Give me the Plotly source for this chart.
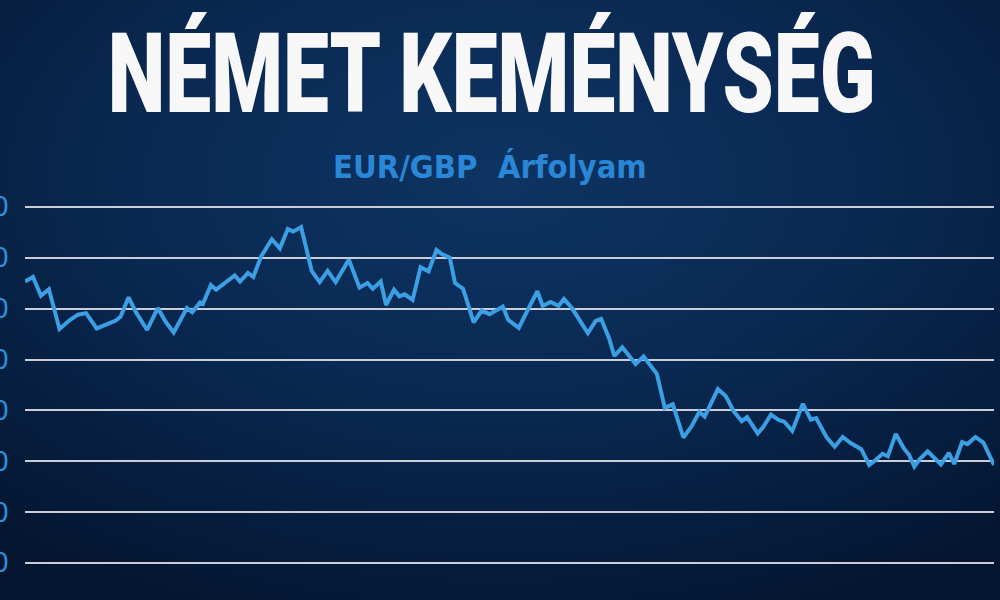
import base64
import pandas as pd
import plotly.graph_objects as go

# ---- data ----
napok = [0, 3, 6, 9, 13, 17, 20, 23, 27, 30, 34, 36, 39, 42, 46, 50, 53, 56, 61, 63,
         66, 67, 70, 72, 76, 79, 81, 84, 86, 89, 93, 96, 99, 101, 104, 108, 111, 114, 117, 122,
         126, 129, 131, 134, 136, 139, 141, 143, 146, 149, 152, 155, 157, 160, 162, 165, 169, 172, 175, 180,
         182, 185, 186, 190, 193, 195, 198, 201, 203, 206, 212, 215, 217, 220, 222, 225, 230, 233, 236, 238,
         241, 244, 248, 251, 254, 256, 261, 264, 267, 270, 272, 276, 278, 281, 284, 286, 289, 293, 296, 298,
         302, 305, 308, 311, 315, 318, 320, 323, 325, 328, 331, 333, 335, 337, 340, 343, 345, 348, 350, 353,
         355, 358, 361, 365]
arfolyam = [0.8653, 0.8662, 0.8625, 0.8638, 0.8560, 0.8578, 0.8588, 0.8591, 0.8561, 0.8568,
            0.8576, 0.8584, 0.8622, 0.8591, 0.8558, 0.8601, 0.8574, 0.8553, 0.8601, 0.8593,
            0.8612, 0.8609, 0.8646, 0.8637, 0.8653, 0.8665, 0.8653, 0.8670, 0.8662, 0.8703,
            0.8736, 0.8718, 0.8756, 0.8751, 0.8760, 0.8674, 0.8652, 0.8674, 0.8652, 0.8696,
            0.8641, 0.8650, 0.8639, 0.8653, 0.8607, 0.8637, 0.8624, 0.8628, 0.8617, 0.8681,
            0.8673, 0.8715, 0.8707, 0.8700, 0.8650, 0.8639, 0.8573, 0.8596, 0.8589, 0.8604,
            0.8578, 0.8566, 0.8562, 0.8604, 0.8634, 0.8605, 0.8613, 0.8605, 0.8619, 0.8601,
            0.8552, 0.8576, 0.8580, 0.8542, 0.8507, 0.8524, 0.8491, 0.8506, 0.8486, 0.8472,
            0.8405, 0.8412, 0.8347, 0.8368, 0.8397, 0.8388, 0.8442, 0.8428, 0.8398, 0.8379,
            0.8387, 0.8355, 0.8367, 0.8392, 0.8381, 0.8378, 0.8360, 0.8413, 0.8382, 0.8385,
            0.8347, 0.8329, 0.8348, 0.8336, 0.8324, 0.8293, 0.8301, 0.8315, 0.8310, 0.8354,
            0.8326, 0.8313, 0.8290, 0.8304, 0.8320, 0.8304, 0.8294, 0.8317, 0.8295, 0.8338,
            0.8334, 0.8348, 0.8337, 0.8293]
y_ticks = [0.81, 0.82, 0.83, 0.84, 0.85, 0.86, 0.87, 0.88]
start_date = "2024-01-01"
title_text = "NÉMET KEMÉNYSÉG"
subtitle_text = "EUR/GBP&nbsp;&nbsp;Árfolyam"

dates = pd.Timestamp(start_date) + pd.to_timedelta(napok, unit="D")

W, H = 1000, 600
ML, MR, MT, MB = 25, 6, 199.4, 29.4
pw, ph = W - ML - MR, H - MT - MB

svg = f'''<svg xmlns="http://www.w3.org/2000/svg" width="{W}" height="{H}" viewBox="0 0 {W} {H}" preserveAspectRatio="none">
<defs><radialGradient id="g" cx="50%" cy="30%" r="80%">
<stop offset="0" stop-color="#0e3463"/>
<stop offset="0.45" stop-color="#0a2952"/>
<stop offset="1" stop-color="#03152f"/>
</radialGradient></defs>
<rect width="{W}" height="{H}" fill="url(#g)"/></svg>'''
bg_src = "data:image/svg+xml;base64," + base64.b64encode(svg.encode()).decode()

fig = go.Figure()
fig.add_trace(go.Scatter(
    x=dates, y=arfolyam, mode="lines",
    line=dict(color="#3c9fe4", width=4),
    hoverinfo="skip", showlegend=False,
))

font_fam = "DejaVu Sans, sans-serif"
title_fam = "Roboto, DejaVu Sans, sans-serif"
fig.update_layout(
    width=W, height=H,
    margin=dict(l=ML, r=MR, t=MT, b=MB, pad=0),
    paper_bgcolor="#0a2a55", plot_bgcolor="rgba(0,0,0,0)",
    images=[dict(source=bg_src, xref="paper", yref="paper",
                 x=-ML / pw, y=1 + MT / ph, sizex=W / pw, sizey=H / ph,
                 xanchor="left", yanchor="top", sizing="stretch", layer="below")],
    xaxis=dict(range=[dates[0], dates[-1]], showgrid=False, zeroline=False,
               showticklabels=False, ticks="", showline=False),
    yaxis=dict(range=[0.8085, 0.8815], tickvals=y_ticks, tickformat=".3f",
               showgrid=True, gridcolor="#c9ced8", gridwidth=2, zeroline=False,
               showline=False, ticks="", automargin=False, ticklabelstandoff=15,
               tickfont=dict(family=font_fam, size=26, color="#2f8fdc")),
    annotations=[
        dict(text=title_text, xref="paper", yref="paper",
             x=(491 - ML) / pw, y=(H - MB - 74) / ph, xanchor="center", yanchor="middle",
             showarrow=False, font=dict(family=title_fam, size=112, color="#f7f7f7", weight=900)),
        dict(text=f"<b>{subtitle_text}</b>", xref="paper", yref="paper",
             x=(490 - ML) / pw, y=(H - MB - 167) / ph, xanchor="center", yanchor="middle",
             showarrow=False, font=dict(family=font_fam, size=32, color="#2a86d6")),
    ],
)

# condensed look for the headline texts (fit to the reference widths), no page margin
post_js = """
document.body.style.margin = '0px';
document.body.style.background = '#03152f';
var gd = document.getElementById('{plot_id}');
var widths = [768, 314];
var texts = gd.querySelectorAll('.annotation-text');
texts.forEach(function(t, i) {
  var bb = t.getBBox();
  if (!bb.width) return;
  var sx = widths[i] / bb.width;
  var cx = bb.x + bb.width / 2;
  var prev = t.getAttribute('transform') || '';
  t.setAttribute('transform', prev + ' translate(' + cx + ' 0) scale(' + sx + ' 1) translate(' + (-cx) + ' 0)');
});
"""

fig.write_html("out.html", post_script=post_js, config={"displayModeBar": False})
